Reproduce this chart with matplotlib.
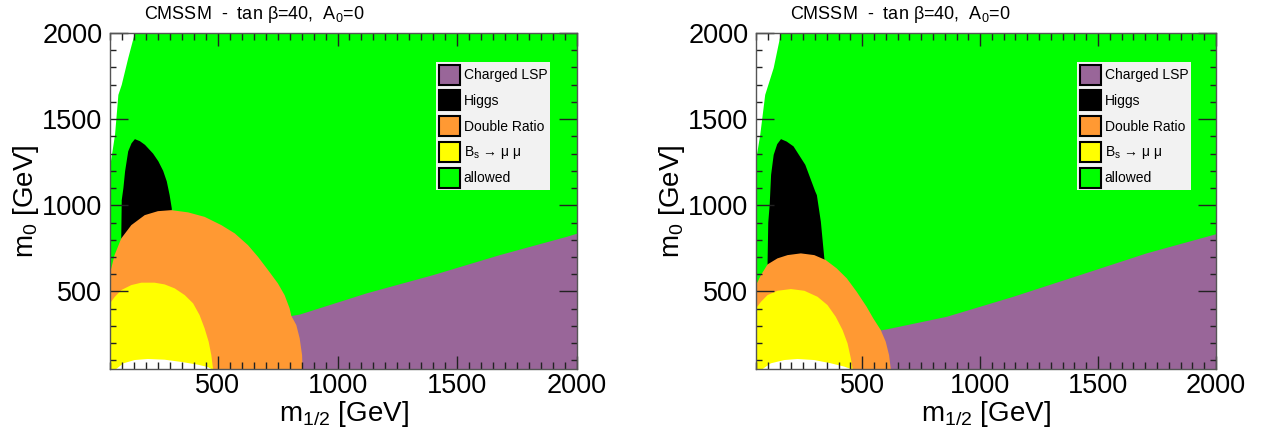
import numpy as np
import matplotlib
matplotlib.use("Agg")
import matplotlib.pyplot as plt
from matplotlib.patches import Patch
from matplotlib.ticker import MultipleLocator

plt.rcParams['font.family'] = ['Liberation Sans', 'DejaVu Sans']
plt.rcParams['mathtext.fontset'] = 'custom'
plt.rcParams['mathtext.rm'] = 'Liberation Sans'
plt.rcParams['mathtext.it'] = 'Liberation Sans:italic'
plt.rcParams['mathtext.default'] = 'regular'

# --- plot range (GeV) ---
m12_range = [50, 2000]
m0_range = [50, 2000]
major_ticks = [500, 1000, 1500, 2000]

# --- legend ---
legend_labels = ["Charged LSP", "Higgs", "Double Ratio", "B$_{s}$ \u2192 \u03bc \u03bc", "allowed"]
legend_colors = ["#996699", "#000000", "#ff9933", "#ffff00", "#00ff00"]
title = "CMSSM  -  tan \u03b2=40,  A$_{0}$=0"

# ===== left panel: region boundaries (m1/2, m0) =====
L_nosol_x = [154, 126, 99, 85, 71, 54, 50]
L_nosol_y = [2000, 1853, 1699, 1641, 1409, 1255, 1200]

L_higgs_x = [97, 97, 99, 106, 113, 126, 140, 154, 175, 196, 230, 252, 272, 287, 299, 308, 308, 97]
L_higgs_y = [700, 808, 1030, 1100, 1197, 1313, 1360, 1384, 1372, 1351, 1300, 1255, 1200, 1139, 1059, 982, 900, 700]

L_lsp_x = [700, 810, 843, 1122, 1400, 1678, 1957, 2000]
L_lsp_y = [315, 358, 366, 489, 595, 711, 817, 835]

L_ratio_x = [50, 69, 97, 139, 195, 250, 306, 376, 445, 515, 571, 626, 668, 710,
             751, 779, 800, 807, 828, 842, 852, 854, 855]
L_ratio_y = [605, 711, 808, 885, 943, 966, 972, 959, 933, 885, 837, 769, 701, 624,
             547, 479, 402, 359, 305, 228, 131, 54, 50]

L_bsmm_x = [50, 70, 97, 139, 181, 236, 278, 320, 362, 397, 424, 445, 462, 473, 480, 481]
L_bsmm_y = [431, 469, 508, 537, 551, 551, 541, 518, 479, 431, 363, 286, 208, 131, 54, 50]

L_hole_x = [76, 106, 153, 208, 278, 348, 417, 459, 473]
L_hole_y = [50, 83, 102, 108, 104, 91, 75, 61, 50]

# ===== right panel =====
R_nosol_x = [156, 125, 89, 68, 54, 50]
R_nosol_y = [2000, 1797, 1641, 1409, 1293, 1250]

R_higgs_x = [99, 99, 102, 108, 114, 125, 140, 156, 180, 209, 259, 301, 308, 325, 339, 342, 342, 99]
R_higgs_y = [600, 663, 900, 1003, 1177, 1293, 1355, 1384, 1370, 1342, 1235, 1081, 1059, 904, 701, 660, 600, 600]

R_lsp_x = [500, 579, 605, 859, 1141, 1424, 1706, 2000]
R_lsp_y = [245, 274, 280, 353, 469, 595, 721, 832]

R_ratio_x = [50, 71, 99, 141, 184, 240, 297, 346, 392, 435, 477, 519, 547, 579, 600, 614, 621, 622]
R_ratio_y = [537, 595, 657, 692, 711, 721, 711, 682, 634, 576, 498, 411, 344, 276, 208, 131, 54, 50]

R_bsmm_x = [50, 71, 99, 141, 198, 255, 311, 353, 388, 417, 438, 452, 459, 460]
R_bsmm_y = [402, 440, 479, 504, 514, 504, 469, 421, 353, 276, 199, 112, 54, 50]

R_hole_x = [78, 113, 170, 226, 297, 367, 424, 452]
R_hole_y = [50, 83, 102, 108, 102, 83, 64, 50]


def draw_panel(ax, nosol, higgs, lsp, ratio, bsmm, hole):
    x0, x1 = m12_range
    y0, y1 = m0_range
    # allowed everywhere else
    ax.fill([x0, x1, x1, x0], [y0, y0, y1, y1], color=legend_colors[4], lw=0, zorder=0)
    # no solution corner (top left)
    ax.fill([x0] + nosol[0], [y1] + nosol[1], color="white", lw=0, zorder=1)
    # charged LSP
    ax.fill(lsp[0] + [x1, lsp[0][0]], lsp[1] + [y0, y0], color=legend_colors[0], lw=0, zorder=1)
    # higgs
    ax.fill(higgs[0], higgs[1], color=legend_colors[1], lw=0, zorder=1)
    # double ratio
    ax.fill(ratio[0] + [x0], ratio[1] + [y0], color=legend_colors[2], lw=0, zorder=1.1)
    # Bs -> mu mu
    ax.fill(bsmm[0] + [x0], bsmm[1] + [y0], color=legend_colors[3], lw=0, zorder=1.2)
    # white hole at bottom
    ax.fill(hole[0], hole[1], color="white", lw=0, zorder=1.3)

    ax.set_xlim(m12_range)
    ax.set_ylim(m0_range)
    ax.set_xticks(major_ticks)
    ax.set_yticks(major_ticks)
    ax.xaxis.set_minor_locator(MultipleLocator(50))
    ax.yaxis.set_minor_locator(MultipleLocator(100))
    ax.tick_params(which='both', direction='in', top=True, right=True, colors='#222222',
                   labelcolor='black', labelsize=19.5)
    ax.tick_params(axis='x', which='major', length=9.5, width=1, pad=3)
    ax.tick_params(axis='x', which='minor', length=5, width=1)
    ax.tick_params(axis='y', which='major', length=13, width=1, pad=5.5)
    ax.tick_params(axis='y', which='minor', length=4.3, width=1)
    for s in ax.spines.values():
        s.set_color('#555555')
        s.set_linewidth(1)
        s.set_zorder(3)

    ax.set_xlabel("m$_{1/2}$ [GeV]", fontsize=20, labelpad=0)
    ax.set_ylabel("m$_{0}$ [GeV]", fontsize=20, labelpad=1)
    ax.text(0.073, 1.041, title, transform=ax.transAxes, fontsize=13, va='baseline')

    handles = [Patch(facecolor=c, edgecolor='black', linewidth=1.5) for c in legend_colors]
    leg = ax.legend(handles, legend_labels, loc='upper left', bbox_to_anchor=(0.698, 0.914),
                    fontsize=10, frameon=True, fancybox=False, facecolor='#f2f2f2',
                    edgecolor='none', framealpha=1, borderaxespad=0, borderpad=0.2,
                    handlelength=1.5, handleheight=1.84, handletextpad=0.3,
                    labelspacing=0.41)
    leg.set_zorder(5)


fig = plt.figure(figsize=(12.71, 4.37), dpi=100)
ax1 = fig.add_axes([110 / 1271, 1 - 369 / 437, 467 / 1271, 336 / 437])
ax2 = fig.add_axes([756 / 1271, 1 - 369 / 437, 460 / 1271, 336 / 437])

draw_panel(ax1, (L_nosol_x, L_nosol_y), (L_higgs_x, L_higgs_y), (L_lsp_x, L_lsp_y),
           (L_ratio_x, L_ratio_y), (L_bsmm_x, L_bsmm_y), (L_hole_x, L_hole_y))
draw_panel(ax2, (R_nosol_x, R_nosol_y), (R_higgs_x, R_higgs_y), (R_lsp_x, R_lsp_y),
           (R_ratio_x, R_ratio_y), (R_bsmm_x, R_bsmm_y), (R_hole_x, R_hole_y))

fig.savefig("out.png", dpi=100)
